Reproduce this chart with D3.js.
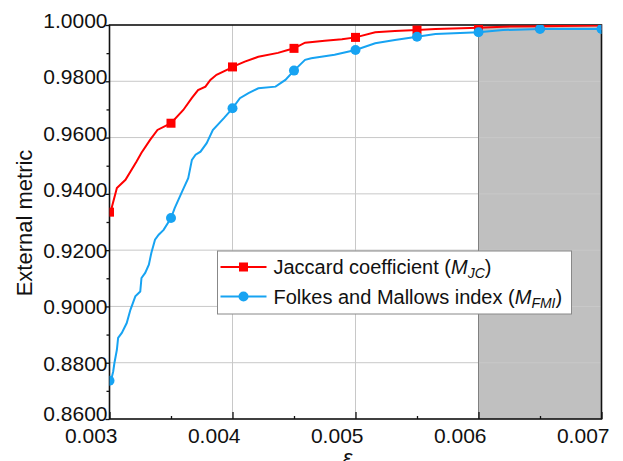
<!DOCTYPE html>
<html>
<head>
<meta charset="utf-8">
<script src="https://cdn.jsdelivr.net/npm/d3@7"></script>
<style>
  body { margin: 0; background: #fff; }
  text { font-family: Arial, "Liberation Sans", sans-serif; fill: #111; }
</style>
</head>
<body>
<div id="container"></div>
<script>
// data
const jcEps = [0.003012, 0.00302, 0.00306, 0.00313, 0.00322, 0.00326, 0.00333, 0.00339, 0.0035, 0.0036,
  0.00367, 0.00372, 0.00378, 0.00382, 0.00387, 0.00398, 0.004, 0.0041, 0.00421, 0.00437, 0.00445, 0.0045,
  0.00459, 0.00475, 0.00489, 0.005, 0.00516, 0.00532, 0.0055, 0.00565, 0.006, 0.0062, 0.0065, 0.007];
const jcVal = [0.9333, 0.9354, 0.9421, 0.945, 0.9515, 0.9546, 0.9592, 0.9627, 0.9651, 0.9698,
  0.9741, 0.9769, 0.9781, 0.9805, 0.9823, 0.9846, 0.9851, 0.987, 0.9887, 0.9901, 0.9911, 0.9917,
  0.9937, 0.9944, 0.9949, 0.9956, 0.9974, 0.9979, 0.9982, 0.9986, 0.999, 0.9994, 0.9996, 0.9998];

const fmiEps = [0.003012, 0.00303, 0.00304, 0.00306, 0.00307, 0.0031, 0.00314, 0.00317, 0.00319, 0.00321,
  0.00325, 0.00326, 0.00329, 0.00332, 0.00334, 0.00337, 0.0034, 0.00344, 0.0035, 0.00353, 0.00359,
  0.00364, 0.00367, 0.0037, 0.00374, 0.00379, 0.00384, 0.00393, 0.004, 0.00406, 0.00413, 0.00421,
  0.00435, 0.00443, 0.0045, 0.00459, 0.00464, 0.00483, 0.005, 0.00516, 0.00532, 0.0055, 0.00565,
  0.006, 0.0062, 0.0065, 0.007];
const fmiVal = [0.8736, 0.8769, 0.8799, 0.8846, 0.8888, 0.8906, 0.8941, 0.8988, 0.9012, 0.9036,
  0.9053, 0.9101, 0.9119, 0.9148, 0.919, 0.9237, 0.9255, 0.9272, 0.9314, 0.9349, 0.9408,
  0.9456, 0.9521, 0.9539, 0.955, 0.958, 0.9627, 0.9669, 0.9704, 0.974, 0.9758, 0.9775,
  0.9781, 0.9805, 0.9838, 0.9876, 0.9882, 0.9894, 0.9911, 0.9935, 0.9947, 0.9958, 0.9968,
  0.9974, 0.9982, 0.9986, 0.9986];

const markerEps = [0.003, 0.0035, 0.004, 0.0045, 0.005, 0.0055, 0.006, 0.0065, 0.007];
const jcMarkers = [0.9335, 0.9651, 0.9851, 0.9917, 0.9956, 0.9982, 0.999, 0.9996, 0.9998];
const fmiMarkers = [0.8736, 0.9314, 0.9704, 0.9838, 0.9911, 0.9958, 0.9974, 0.9986, 0.9986];

const xTicks = [0.003, 0.004, 0.005, 0.006, 0.007];
const yTicks = [0.86, 0.88, 0.90, 0.92, 0.94, 0.96, 0.98, 1.0];
const shadeRange = [0.006, 0.007];

const width = 623, height = 461;
const margin = { left: 109.5, right: 21.5, top: 25, bottom: 42 };

const svg = d3.select("#container").append("svg")
  .attr("width", width).attr("height", height);

const x = d3.scaleLinear().domain([0.003, 0.007]).range([margin.left, width - margin.right]);
const y = d3.scaleLinear().domain([0.86, 1.0]).range([height - margin.bottom, margin.top]);

const x0 = x.range()[0], x1 = x.range()[1], y0 = y.range()[0], y1 = y.range()[1];

svg.append("defs").append("clipPath").attr("id", "plot")
  .append("rect").attr("x", x0).attr("y", y1).attr("width", x1 - x0).attr("height", y0 - y1);

// shaded region
svg.append("rect")
  .attr("x", x(shadeRange[0])).attr("y", y1)
  .attr("width", x(shadeRange[1]) - x(shadeRange[0])).attr("height", y0 - y1)
  .attr("fill", "#c0c0c0");

// grid
svg.append("g").selectAll("line").data(yTicks.slice(1, -1)).join("line")
  .attr("x1", x0).attr("x2", x1).attr("y1", d => y(d)).attr("y2", d => y(d))
  .attr("stroke", "#c8c8c8").attr("stroke-width", 1);
svg.append("g").selectAll("line").data(xTicks.slice(1, -1)).join("line")
  .attr("y1", y1).attr("y2", y0).attr("x1", d => x(d)).attr("x2", d => x(d))
  .attr("stroke", d => d === shadeRange[0] ? "#808080" : "#c8c8c8").attr("stroke-width", 1);

// axes
const xAxis = d3.axisBottom(x).tickValues(d3.range(0.003, 0.00701, 0.0005))
  .tickSize(0).tickFormat("");
const gx = svg.append("g").attr("transform", `translate(0,${y0})`).call(xAxis);
gx.select(".domain").remove();
gx.selectAll(".tick line").attr("y2", (d, i) => i % 2 === 0 ? -7 : -3)
  .attr("stroke", "#111").attr("stroke-width", 1.3);
gx.selectAll(".tick").filter((d, i) => i % 2 === 0).append("text")
  .attr("x", 7.5).attr("y", 24).attr("text-anchor", "end")
  .style("font-size", "21px").attr("fill", "#111")
  .text(d => d3.format(".3f")(d));

const yAxis = d3.axisLeft(y).tickValues(d3.range(0.86, 1.0001, 0.01))
  .tickSize(0).tickFormat("");
const gy = svg.append("g").attr("transform", `translate(${x0},0)`).call(yAxis);
gy.select(".domain").remove();
gy.selectAll(".tick line").attr("x2", (d, i) => i % 2 === 0 ? -4 : -3)
  .attr("stroke", "#111").attr("stroke-width", 1.3);
// labels near the top and the bottom sit a little above their ticks in the original
const labelShift = d => (d > 0.935 ? -5 : d < 0.865 ? -6 : 0);
gy.selectAll(".tick").filter((d, i) => i % 2 === 0).append("text")
  .attr("x", -2).attr("y", d => labelShift(d)).attr("dy", "0.36em").attr("text-anchor", "end")
  .style("font-size", "21px").attr("fill", "#111")
  .text(d => d3.format(".4f")(d));

// frame
svg.append("rect").attr("x", x0).attr("y", y1).attr("width", x1 - x0).attr("height", y0 - y1)
  .attr("fill", "none").attr("stroke", "#111").attr("stroke-width", 1.6);

// lines
const line = d3.line().x(d => x(d[0])).y(d => y(d[1]));
const plot = svg.append("g").attr("clip-path", "url(#plot)");
const red = "#ff0000", blue = "#17a3f2";

plot.append("path").datum(d3.zip(jcEps, jcVal)).attr("d", line)
  .attr("fill", "none").attr("stroke", red).attr("stroke-width", 2);
plot.append("path").datum(d3.zip(fmiEps, fmiVal)).attr("d", line)
  .attr("fill", "none").attr("stroke", blue).attr("stroke-width", 2);

plot.selectAll("rect.jc").data(d3.zip(markerEps, jcMarkers)).join("rect")
  .attr("class", "jc")
  .attr("x", d => x(d[0]) - 4.5).attr("y", d => y(d[1]) - 4.5)
  .attr("width", 9).attr("height", 9).attr("fill", red);
plot.selectAll("circle.fmi").data(d3.zip(markerEps, fmiMarkers)).join("circle")
  .attr("class", "fmi")
  .attr("cx", d => x(d[0])).attr("cy", d => y(d[1])).attr("r", 5).attr("fill", blue);

// legend
const lg = svg.append("g").attr("transform", "translate(217.5,251)");
lg.append("rect").attr("width", 354).attr("height", 63)
  .attr("fill", "#fff").attr("stroke", "#888").attr("stroke-width", 1);
const items = [
  { name: "Jaccard coefficient (", sub: "JC", color: red, shape: "square" },
  { name: "Folkes and Mallows index (", sub: "FMI", color: blue, shape: "circle" }
];
items.forEach((it, i) => {
  const cy = 16 + i * 29.5;
  lg.append("line").attr("x1", 3).attr("x2", 49).attr("y1", cy).attr("y2", cy)
    .attr("stroke", it.color).attr("stroke-width", 2);
  if (it.shape === "square") {
    lg.append("rect").attr("x", 26 - 4.5).attr("y", cy - 4.5).attr("width", 9).attr("height", 9)
      .attr("fill", it.color);
  } else {
    lg.append("circle").attr("cx", 26).attr("cy", cy).attr("r", 5).attr("fill", it.color);
  }
  const t = lg.append("text").attr("x", 56).attr("y", cy + 7).style("font-size", "20px");
  t.append("tspan").text(it.name);
  t.append("tspan").style("font-style", "italic").text("M");
  t.append("tspan").style("font-style", "italic").style("font-size", "14px")
    .attr("dy", 4).text(it.sub);
  t.append("tspan").attr("dy", -4).text(")");
});

// axis titles
svg.append("text")
  .attr("transform", `translate(32,${(y0 + y1) / 2 + 1}) rotate(-90)`)
  .attr("text-anchor", "middle").style("font-size", "22px")
  .text("External metric");
svg.append("text")
  .attr("x", 347.5).attr("y", 465).attr("text-anchor", "middle")
  .style("font-size", "22px").style("font-style", "italic")
  .text("ε");
</script>
</body>
</html>
